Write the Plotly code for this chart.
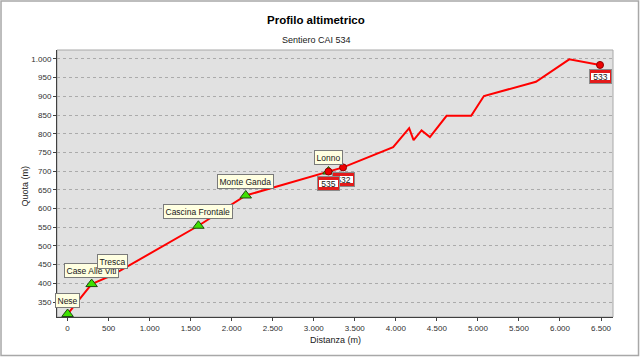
import plotly.graph_objects as go

# Profile line (distance m, elevation m)
dist = [0, 293, 545, 1594, 2171, 3179, 3357, 3967, 4162, 4216, 4313, 4415, 4618, 4918, 5073, 5707, 6113, 6488]
elev = [318, 398, 422, 554, 635, 699, 710, 764, 815, 783, 809, 791, 848, 848, 901, 939, 999, 984]

# Named places (green triangles)
place_names = ["Nese", "Case Alle Viti", "Tresca", "Cascina Frontale", "Monte Ganda", "Lonno"]
place_dist = [0, 293, 545, 1594, 2171, 3179]
place_elev = [318, 398, 422, 554, 635, 699]

# Trail signs (red dots)
sign_names = ["532", "535", "533"]
sign_dist = [3357, 3179, 6488]
sign_elev = [710, 699, 984]

x_ticks = list(range(0, 7000, 500))
y_ticks = list(range(350, 1050, 50))

FONT = "Liberation Sans, Arial, sans-serif"

fig = go.Figure()
fig.add_trace(go.Scatter(x=dist, y=elev, mode="lines",
                         line=dict(color="#ff0000", width=2), hoverinfo="skip", cliponaxis=False))
fig.add_trace(go.Scatter(x=place_dist, y=place_elev, mode="markers",
                         marker=dict(symbol="triangle-up", size=10, color="#3fe000",
                                     line=dict(color="#1e4a10", width=1)), cliponaxis=False))
fig.add_trace(go.Scatter(x=sign_dist, y=sign_elev, mode="markers",
                         marker=dict(symbol="circle", size=7, color="#ee0000",
                                     line=dict(color="#900000", width=1)), cliponaxis=False))

annotations = []
for n, x, y in zip(place_names, place_dist, place_elev):
    annotations.append(dict(x=x, y=y, xref="x", yref="y", text=n, showarrow=False,
                            yshift=14, xanchor="center", yanchor="middle",
                            font=dict(family=FONT, size=8.5, color="#202020"),
                            bgcolor="#ffffe1", bordercolor="#7a7a7a", borderwidth=1, borderpad=1.5))
for n, x, y in zip(sign_names, sign_dist, sign_elev):
    annotations.append(dict(x=x, y=y, xref="x", yref="y", text=" ", showarrow=False,
                            yshift=-12, xanchor="center", yanchor="middle", width=21, height=13,
                            bgcolor="#e31b1b", bordercolor="#8a8a8a", borderwidth=1, borderpad=0,
                            font=dict(size=6)))
    annotations.append(dict(x=x, y=y, xref="x", yref="y", text=n, showarrow=False,
                            yshift=-12, xanchor="center", yanchor="middle", width=19, height=7,
                            bgcolor="#ffffff", borderwidth=0, borderpad=0,
                            font=dict(family=FONT, size=8.5, color="#202020")))

annotations += [
    dict(xref="paper", yref="paper", x=0.466, y=1.112, text="<b>Profilo altimetrico</b>",
         showarrow=False, font=dict(family=FONT, size=11.5, color="#000000"), yanchor="middle"),
    dict(xref="paper", yref="paper", x=0.466, y=1.037, text="Sentiero CAI 534",
         showarrow=False, font=dict(family=FONT, size=9, color="#202020"), yanchor="middle"),
    dict(xref="paper", yref="paper", x=0.5, y=-0.086, text="Distanza (m)",
         showarrow=False, font=dict(family=FONT, size=9, color="#202020"), yanchor="middle"),
    dict(xref="paper", yref="paper", x=-0.0576, y=0.4925, text="Quota (m)", textangle=-90,
         showarrow=False, font=dict(family=FONT, size=9, color="#202020"),
         xanchor="center", yanchor="middle"),
]

fig.update_layout(
    width=640, height=357,
    margin=dict(l=57, r=27, t=50, b=40),
    paper_bgcolor="#ffffff", plot_bgcolor="#e1e1e1",
    separators=",.",
    showlegend=False,
    annotations=annotations,
    shapes=[
        dict(type="rect", xref="paper", yref="paper", x0=-0.1007, x1=1.0459, y0=-0.1442, y1=1.1835,
             line=dict(color="#a8a8a8", width=1.5), layer="below"),
        dict(type="rect", xref="paper", yref="paper", x0=0, x1=1, y0=0, y1=1,
             line=dict(color="#a8a8a8", width=1), layer="below"),
    ],
    xaxis=dict(range=[-129, 6646], tickvals=x_ticks, tickformat=",d", showgrid=False,
               zeroline=False, showline=True, linecolor="#404040", linewidth=1,
               ticks="outside", ticklen=3, tickcolor="#404040",
               tickfont=dict(family=FONT, size=8, color="#303030")),
    yaxis=dict(range=[310, 1024], tickvals=y_ticks, tickformat=",d", showgrid=True,
               gridcolor="#ababab", griddash="dot", gridwidth=1,
               zeroline=False, showline=True, linecolor="#404040", linewidth=1,
               ticks="outside", ticklen=3, tickcolor="#404040",
               tickfont=dict(family=FONT, size=8, color="#303030")),
)

fig.write_html("out.html", config={"displayModeBar": False},
               post_script="document.body.style.margin='0';")
